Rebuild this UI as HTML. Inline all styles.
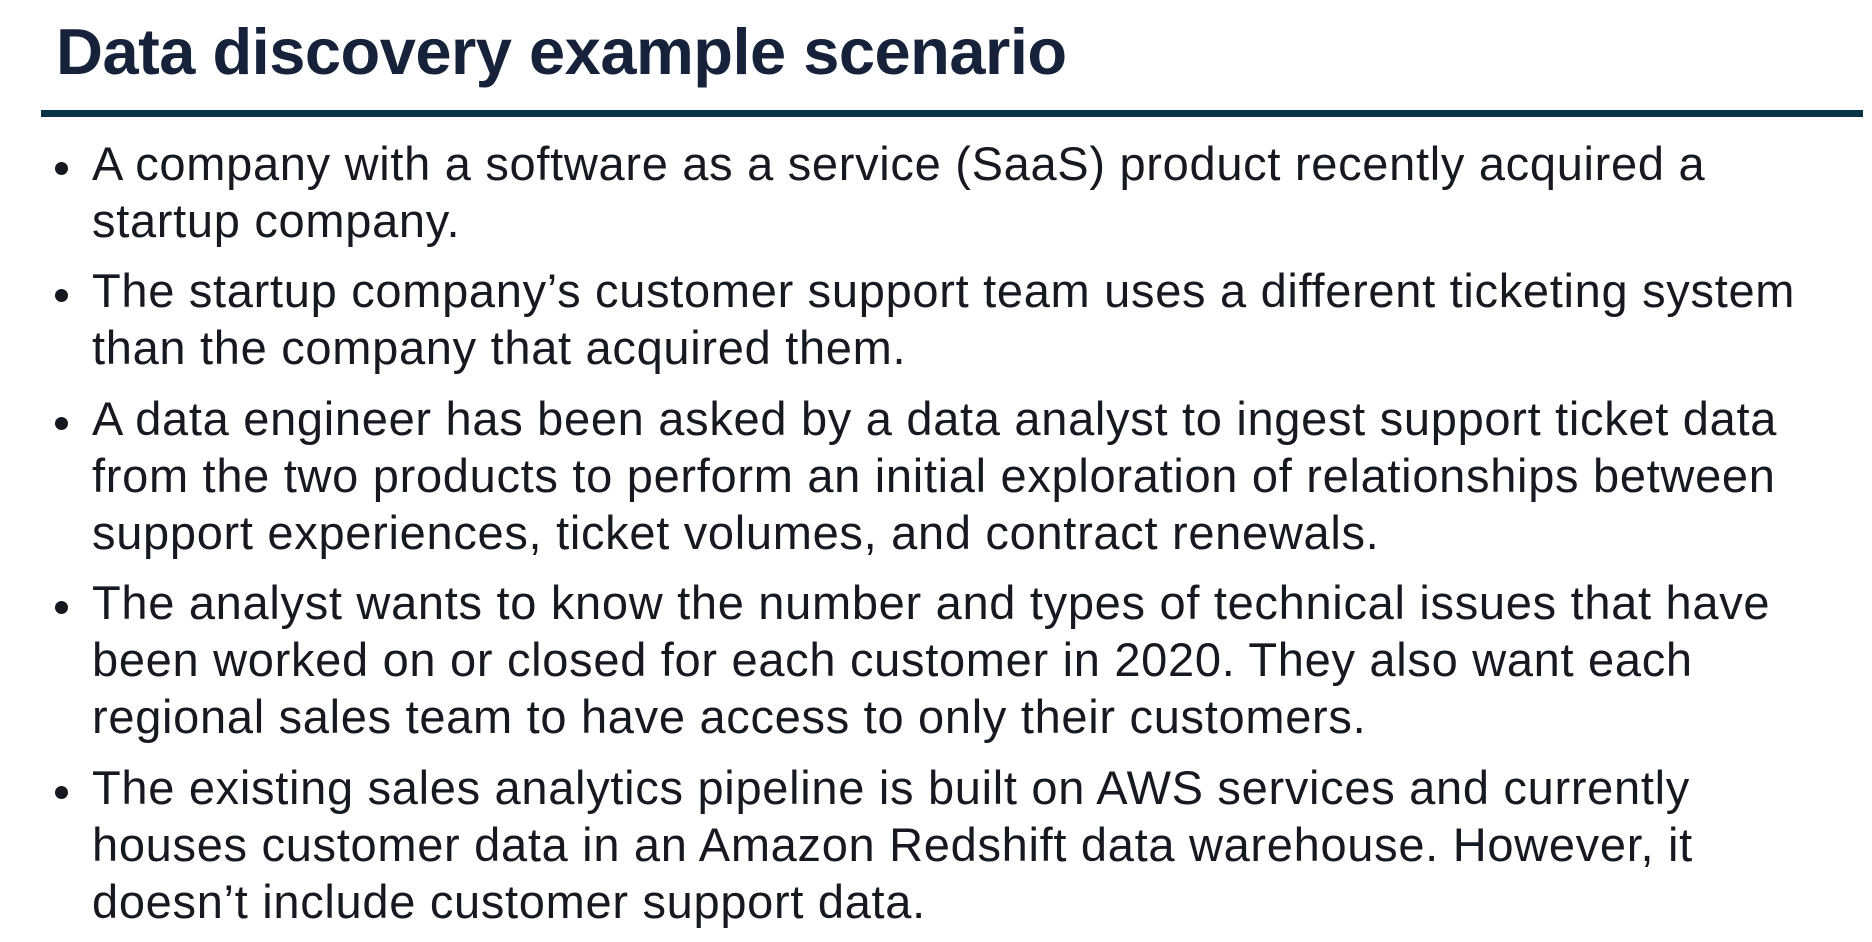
<!DOCTYPE html>
<html><head><meta charset="utf-8"><style>
body{margin:0;width:1872px;height:942px;background:#fff;position:relative;overflow:hidden;font-family:"Liberation Sans",sans-serif;color:#16191f}
h1{position:absolute;left:56px;top:12px;margin:0;font-size:65px;font-weight:bold;color:#16213a;line-height:80px;letter-spacing:-0.5px}
.rule{position:absolute;left:41px;top:110px;width:1822px;height:7px;background:#083447}
.l{position:absolute;left:92px;font-size:47px;line-height:56px;white-space:nowrap;letter-spacing:0.7px}
.b{position:absolute;left:55px;width:13px;height:13px;border-radius:50%;background:#16191f}
</style></head><body>
<h1>Data discovery example scenario</h1>
<div class="rule"></div>
<div class="b" style="top:162px"></div>
<div class="l" style="top:136px">A company with a software as a service (SaaS) product recently acquired a</div>
<div class="l" style="top:193px">startup company.</div>
<div class="b" style="top:289px"></div>
<div class="l" style="top:263px">The startup company’s customer support team uses a different ticketing system</div>
<div class="l" style="top:320px">than the company that acquired them.</div>
<div class="b" style="top:417px"></div>
<div class="l" style="top:391px">A data engineer has been asked by a data analyst to ingest support ticket data</div>
<div class="l" style="top:448px">from the two products to perform an initial exploration of relationships between</div>
<div class="l" style="top:505px">support experiences, ticket volumes, and contract renewals.</div>
<div class="b" style="top:601px"></div>
<div class="l" style="top:575px">The analyst wants to know the number and types of technical issues that have</div>
<div class="l" style="top:632px">been worked on or closed for each customer in 2020. They also want each</div>
<div class="l" style="top:689px">regional sales team to have access to only their customers.</div>
<div class="b" style="top:786px"></div>
<div class="l" style="top:760px">The existing sales analytics pipeline is built on AWS services and currently</div>
<div class="l" style="top:817px">houses customer data in an Amazon Redshift data warehouse. However, it</div>
<div class="l" style="top:874px">doesn’t include customer support data.</div>
</body></html>
